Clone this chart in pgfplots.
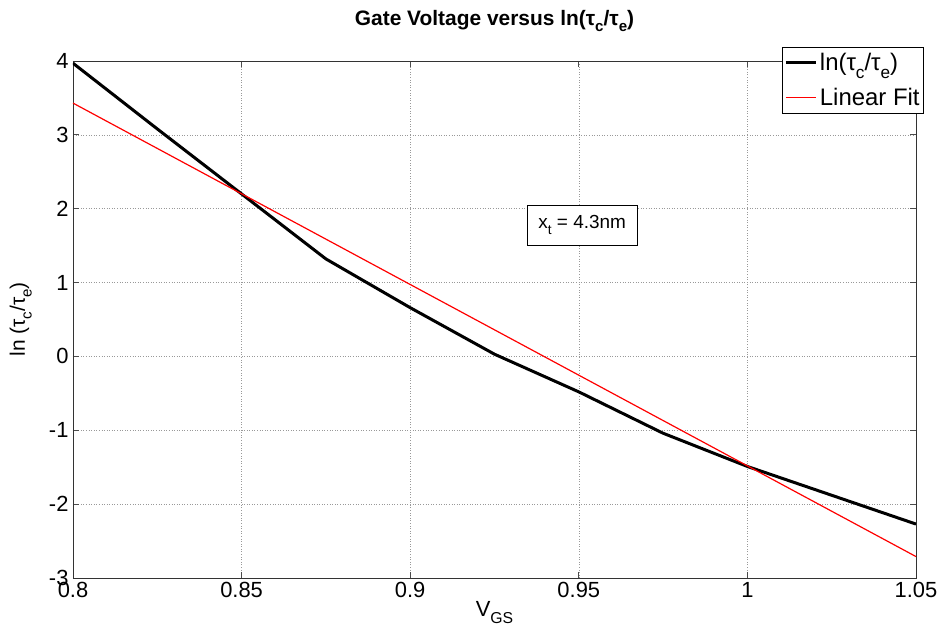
\documentclass[border=0pt]{standalone}
\usepackage{fontspec}
\setmainfont{Liberation Sans}
\usepackage{pgfplots}
\pgfplotsset{compat=1.18}

\newcommand{\lo}[1]{\raisebox{-0.6ex}{\fontsize{0.72em}{0.72em}\selectfont #1}}

\begin{document}
\begin{tikzpicture}
\begin{axis}[
    scale only axis,
    width=843bp,
    height=517bp,
    xmin=0.8, xmax=1.05,
    ymin=-3, ymax=4,
    xtick={0.8,0.85,0.9,0.95,1,1.05},
    xticklabels={0.8,0.85,0.9,0.95,1,1.05},
    ytick={-3,-2,-1,0,1,2,3,4},
    yticklabels={-3,-2,-1,0,1,2,3,4},
    tick align=inside,
    tick pos=both,
    major tick length=6bp,
    tick style={black!70, line width=0.8bp},
    axis line style={black!80, line width=0.8bp},
    grid=major,
    major grid style={gray!80, line width=0.6bp, dotted},
    tick label style={font=\fontsize{22}{22}\selectfont},
    xticklabel style={yshift=-1bp},
    yticklabel style={xshift=-1bp},
    title={\textbf{Gate Voltage versus ln(τ\lo{c}/τ\lo{e})}},
    title style={font=\fontsize{21}{21}\selectfont, at={(axis description cs:0.5,1)}, anchor=base, yshift=30bp},
    xlabel={V\lo{GS}},
    xlabel style={font=\fontsize{22}{22}\selectfont, at={(axis description cs:0.5,-0.066)}, anchor=center},
    ylabel={ln (τ\lo{c}/τ\lo{e})},
    ylabel style={font=\fontsize{21}{21}\selectfont, at={(axis description cs:-0.062,0.5)}, anchor=center},
    legend style={at={(axis description cs:1,1)}, anchor=north east, xshift=8bp, yshift=14bp,
        font=\fontsize{24}{24}\selectfont, draw=black, line width=0.8bp, fill=white,
        inner xsep=2bp, inner ysep=4bp, row sep=12bp},
    legend cell align=left,
    legend image post style={xscale=1.8},
]
\addplot[black, line width=3bp] coordinates {
    (0.800, 3.97) (0.825, 3.08) (0.850, 2.20) (0.875, 1.32) (0.900, 0.66)
    (0.925, 0.03) (0.950, -0.48) (0.975, -1.04) (1.000, -1.49) (1.025, -1.88)
    (1.050, -2.27)
};
\addlegendentry{ln(τ\lo{c}/τ\lo{e})}
\addplot[red, line width=1.2bp] coordinates {
    (0.800, 3.43) (1.050, -2.71)
};
\addlegendentry{Linear Fit}
\node[draw=black, line width=0.8bp, fill=white, font=\fontsize{19}{19}\selectfont,
      minimum width=110bp, minimum height=40bp, anchor=center]
      at (axis cs:0.951,1.78) {x\lo{t} = 4.3nm};
\coordinate (bl) at (rel axis cs:0,0);
\coordinate (tr) at (rel axis cs:1,1);
\end{axis}
\pgfresetboundingbox
\path[use as bounding box] ([xshift=-73bp,yshift=-59bp]bl) rectangle ([xshift=27bp,yshift=61bp]tr);
\end{tikzpicture}
\end{document}
